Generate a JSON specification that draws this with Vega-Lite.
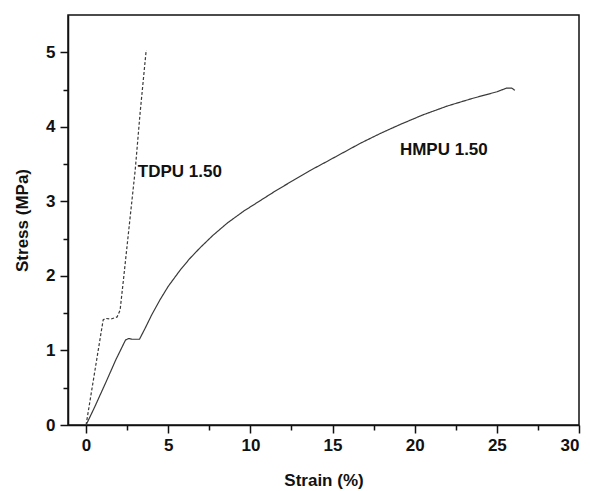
{
  "$schema": "https://vega.github.io/schema/vega-lite/v6.json",
  "width": 511,
  "height": 410,
  "autosize": "none",
  "padding": {"left": 68, "top": 15, "right": 11, "bottom": 66},
  "background": "white",
  "config": {
    "view": {"stroke": "#111", "strokeWidth": 1.5},
    "font": "Liberation Sans",
    "axis": {
      "domainColor": "#111",
      "domainWidth": 1.5,
      "tickColor": "#111",
      "tickWidth": 1.5,
      "labelFont": "Liberation Sans",
      "labelFontWeight": "bold",
      "labelFontSize": 17,
      "labelColor": "#111",
      "titleFont": "Liberation Sans",
      "titleFontWeight": "bold",
      "titleFontSize": 17,
      "titleColor": "#111",
      "grid": false
    }
  },
  "datasets": {
    "curves": [
      {"series": "HMPU 1.50", "strain": 0, "stress": 0},
      {"series": "HMPU 1.50", "strain": 0.5, "stress": 0.23},
      {"series": "HMPU 1.50", "strain": 1.2, "stress": 0.57},
      {"series": "HMPU 1.50", "strain": 1.8, "stress": 0.87},
      {"series": "HMPU 1.50", "strain": 2.4, "stress": 1.14},
      {"series": "HMPU 1.50", "strain": 2.6, "stress": 1.16},
      {"series": "HMPU 1.50", "strain": 2.8, "stress": 1.15},
      {"series": "HMPU 1.50", "strain": 3.25, "stress": 1.15},
      {"series": "HMPU 1.50", "strain": 3.6, "stress": 1.3},
      {"series": "HMPU 1.50", "strain": 4.0, "stress": 1.48},
      {"series": "HMPU 1.50", "strain": 4.5, "stress": 1.68},
      {"series": "HMPU 1.50", "strain": 5.0, "stress": 1.86},
      {"series": "HMPU 1.50", "strain": 5.7, "stress": 2.07},
      {"series": "HMPU 1.50", "strain": 6.3, "stress": 2.23},
      {"series": "HMPU 1.50", "strain": 6.95, "stress": 2.38},
      {"series": "HMPU 1.50", "strain": 7.7, "stress": 2.54},
      {"series": "HMPU 1.50", "strain": 8.6, "stress": 2.71},
      {"series": "HMPU 1.50", "strain": 9.6, "stress": 2.87},
      {"series": "HMPU 1.50", "strain": 10.6, "stress": 3.01},
      {"series": "HMPU 1.50", "strain": 11.6, "stress": 3.15},
      {"series": "HMPU 1.50", "strain": 12.6, "stress": 3.28},
      {"series": "HMPU 1.50", "strain": 13.6, "stress": 3.41},
      {"series": "HMPU 1.50", "strain": 14.7, "stress": 3.54},
      {"series": "HMPU 1.50", "strain": 15.7, "stress": 3.66},
      {"series": "HMPU 1.50", "strain": 16.7, "stress": 3.78},
      {"series": "HMPU 1.50", "strain": 17.9, "stress": 3.91},
      {"series": "HMPU 1.50", "strain": 19.1, "stress": 4.03},
      {"series": "HMPU 1.50", "strain": 20.5, "stress": 4.16},
      {"series": "HMPU 1.50", "strain": 22.0, "stress": 4.28},
      {"series": "HMPU 1.50", "strain": 23.5, "stress": 4.38},
      {"series": "HMPU 1.50", "strain": 25.0, "stress": 4.47},
      {"series": "HMPU 1.50", "strain": 25.6, "stress": 4.52},
      {"series": "HMPU 1.50", "strain": 25.9, "stress": 4.52},
      {"series": "HMPU 1.50", "strain": 26.1, "stress": 4.49},
      {"series": "TDPU 1.50", "strain": 0, "stress": 0},
      {"series": "TDPU 1.50", "strain": 1.04, "stress": 1.41},
      {"series": "TDPU 1.50", "strain": 1.2, "stress": 1.43},
      {"series": "TDPU 1.50", "strain": 1.5, "stress": 1.42},
      {"series": "TDPU 1.50", "strain": 1.89, "stress": 1.45},
      {"series": "TDPU 1.50", "strain": 2.07, "stress": 1.54},
      {"series": "TDPU 1.50", "strain": 2.3, "stress": 2.0},
      {"series": "TDPU 1.50", "strain": 2.62, "stress": 2.66},
      {"series": "TDPU 1.50", "strain": 2.99, "stress": 3.42},
      {"series": "TDPU 1.50", "strain": 3.29, "stress": 4.19},
      {"series": "TDPU 1.50", "strain": 3.66, "stress": 5.03}
    ],
    "labels": [
      {"label": "TDPU 1.50", "strain": 3.15, "stress": 3.4},
      {"label": "HMPU 1.50", "strain": 19.1, "stress": 3.69}
    ]
  },
  "layer": [
    {
      "data": {"name": "curves"},
      "mark": {"type": "line", "strokeWidth": 1.2, "color": "#3a3a3a"},
      "encoding": {
        "x": {
          "field": "strain", "type": "quantitative",
          "scale": {"domain": [-1.1, 30], "nice": false, "zero": false},
          "axis": {
            "title": "Strain (%)",
            "format": "~g",
            "values": [0, 2.5, 5, 7.5, 10, 12.5, 15, 17.5, 20, 22.5, 25, 27.5, 30],
            "labelExpr": "datum.value % 5 === 0 ? datum.label : ''",
            "tickSize": {"condition": {"test": "datum.value % 5 === 0", "value": 8}, "value": 5},
            "labelPadding": 4,
            "titlePadding": 19
          }
        },
        "y": {
          "field": "stress", "type": "quantitative",
          "scale": {"domain": [0, 5.5], "nice": false},
          "axis": {
            "title": "Stress (MPa)",
            "format": "~g",
            "values": [0, 0.5, 1, 1.5, 2, 2.5, 3, 3.5, 4, 4.5, 5],
            "labelExpr": "datum.value % 1 === 0 ? datum.label : ''",
            "tickSize": {"condition": {"test": "datum.value % 1 === 0", "value": 8}, "value": 5},
            "labelPadding": 5,
            "titlePadding": 14
          }
        },
        "detail": {"field": "series"},
        "strokeDash": {
          "field": "series", "type": "nominal",
          "scale": {"domain": ["HMPU 1.50", "TDPU 1.50"], "range": [[1, 0], [3, 2]]},
          "legend": null
        }
      }
    },
    {
      "data": {"name": "labels"},
      "mark": {"type": "text", "align": "left", "baseline": "middle", "font": "Liberation Sans", "fontWeight": "bold", "fontSize": 17, "color": "#111"},
      "encoding": {
        "x": {"field": "strain", "type": "quantitative"},
        "y": {"field": "stress", "type": "quantitative"},
        "text": {"field": "label"}
      }
    }
  ]
}
